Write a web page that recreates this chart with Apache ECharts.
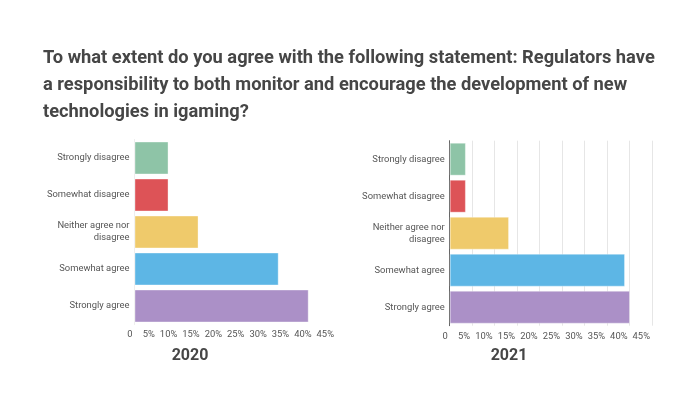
<!DOCTYPE html>
<html>
<head>
<meta charset="utf-8">
<script src="https://cdn.jsdelivr.net/npm/echarts@6/dist/echarts.min.js"></script>
<style>
  html, body { margin: 0; padding: 0; background: #ffffff; }
  #chart { width: 700px; height: 396px; }
</style>
</head>
<body>
<div id="chart"></div>
<script>
const titleText = 'To what extent do you agree with the following statement: Regulators have\n' +
  'a responsibility to both monitor and encourage the development of new\n' +
  'technologies in igaming?';
const categories = ['Strongly disagree', 'Somewhat disagree', 'Neither agree nor disagree', 'Somewhat agree', 'Strongly agree'];
const years = ['2020', '2021'];
const values2020 = [7.6, 7.6, 14.3, 32.2, 38.9];
const values2021 = [3.6, 3.6, 13.2, 39.0, 40.1];
const xTicks = [0, 5, 10, 15, 20, 25, 30, 35, 40, 45];

const barColors = ['#8ec4a7', '#dd5357', '#efca6b', '#5db6e5', '#ab90c7'];
const font = 'Roboto, sans-serif';

const chart = echarts.init(document.getElementById('chart'), null, {renderer: 'canvas'});

function coloredData(values) {
    return values.map(function (v, i) {
        return {value: v, itemStyle: {color: barColors[i]}};
    });
}

function catLabel(name) {
    return name.replace(' nor ', ' nor\n');
}

const xAxisBase = {
    type: 'value',
    min: xTicks[0],
    max: xTicks[xTicks.length - 1],
    interval: 5,
    axisTick: {show: false},
    axisLine: {show: false},
    axisLabel: {
        fontFamily: font,
        fontSize: 9.4,
        color: '#555',
        align: 'right',
        margin: 6,
        padding: [0, 2, 0, 0],
        formatter: function (v) { return v === 0 ? '0' : v + '%'; }
    }
};

const catAxisLabel = {fontFamily: font, fontSize: 9.4, color: '#555', margin: 5, lineHeight: 12, formatter: catLabel};

const option = {
    backgroundColor: '#ffffff',
    animation: false,
    title: [
        {
            text: titleText,
            left: 43,
            top: 45,
            padding: 0,
            textStyle: {fontFamily: font, fontSize: 18.3, fontWeight: 'bold', color: '#464646', lineHeight: 27}
        },
        {
            text: years[0],
            left: 190,
            top: 348,
            padding: 0,
            textAlign: 'center',
            textStyle: {fontFamily: font, fontSize: 16, fontWeight: 'bold', color: '#464646'}
        },
        {
            text: years[1],
            left: 509,
            top: 348,
            padding: 0,
            textAlign: 'center',
            textStyle: {fontFamily: font, fontSize: 16, fontWeight: 'bold', color: '#464646'}
        }
    ],
    grid: [
        {left: 134.5, width: 201.5, top: 139.5, height: 185},
        {left: 449.7, width: 202.3, top: 140.7, height: 185}
    ],
    xAxis: [
        Object.assign({}, xAxisBase, {
            gridIndex: 0,
            splitLine: {show: false}
        }),
        Object.assign({}, xAxisBase, {
            gridIndex: 1,
            splitLine: {show: true, lineStyle: {color: '#e6e6e6', width: 1}}
        })
    ],
    yAxis: [
        {
            type: 'category',
            gridIndex: 0,
            inverse: true,
            data: categories,
            axisTick: {show: false},
            axisLine: {show: true, lineStyle: {color: '#eeeeee', width: 1}},
            axisLabel: catAxisLabel
        },
        {
            type: 'category',
            gridIndex: 1,
            inverse: true,
            data: categories,
            axisTick: {show: false},
            axisLine: {show: true, lineStyle: {color: '#666666', width: 1}},
            axisLabel: catAxisLabel
        }
    ],
    series: [
        {
            name: years[0],
            type: 'bar',
            xAxisIndex: 0,
            yAxisIndex: 0,
            barCategoryGap: '11%',
            itemStyle: {borderColor: 'rgba(255,255,255,0.35)', borderWidth: 1},
            data: coloredData(values2020)
        },
        {
            name: years[1],
            type: 'bar',
            xAxisIndex: 1,
            yAxisIndex: 1,
            barCategoryGap: '11%',
            itemStyle: {borderColor: 'rgba(255,255,255,0.35)', borderWidth: 1},
            data: coloredData(values2021)
        }
    ]
};

chart.setOption(option);
</script>
</body>
</html>
